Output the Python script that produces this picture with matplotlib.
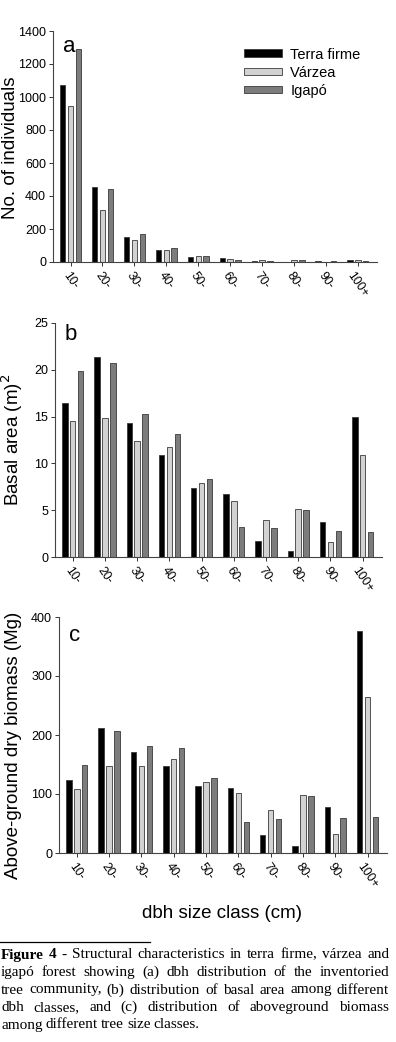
import numpy as np
import matplotlib
matplotlib.use("Agg")
import matplotlib.pyplot as plt
from matplotlib.patches import Patch

plt.rcParams["font.family"] = ["Liberation Sans", "DejaVu Sans"]

classes = ["10-", "20-", "30-", "40-", "50-", "60-", "70-", "80-", "90-", "100+"]
series_names = ["Terra firme", "Várzea", "Igapó"]

# (a) number of individuals
ind_terra = [1070, 455, 150, 75, 32, 22, 5, 3, 5, 12]
ind_varzea = [945, 315, 135, 75, 35, 18, 10, 10, 2, 10]
ind_igapo = [1290, 440, 168, 85, 37, 10, 8, 10, 5, 5]

# (b) basal area (m2)
ba_terra = [16.5, 21.4, 14.3, 10.9, 7.4, 6.7, 1.7, 0.6, 3.7, 15.0]
ba_varzea = [14.5, 14.8, 12.4, 11.7, 7.9, 6.0, 4.0, 5.1, 1.6, 10.9]
ba_igapo = [19.9, 20.7, 15.3, 13.1, 8.3, 3.2, 3.1, 5.0, 2.8, 2.7]

# (c) above-ground dry biomass (Mg)
bio_terra = [123, 212, 172, 147, 113, 111, 31, 12, 78, 377]
bio_varzea = [108, 147, 147, 160, 121, 101, 73, 98, 33, 265]
bio_igapo = [149, 206, 181, 178, 127, 53, 57, 96, 59, 61]

COLORS = ["#000000", "#d2d2d2", "#7c7c7c"]
EDGE = "#3a3a3a"

W, H = 396, 1042
fig = plt.figure(figsize=(W / 100, H / 100), dpi=100)


def px_axes(left, top, right, bottom):
    return fig.add_axes([left / W, 1 - bottom / H, (right - left) / W, (bottom - top) / H])


def bar_panel(ax, data, ymax, ystep, ylabel, label_xy, letter, letter_y):
    x = np.arange(len(classes))
    width = 0.17
    for i, (vals, col) in enumerate(zip(data, COLORS)):
        ax.bar(x + (i - 1) * 0.245, vals, width, color=col, edgecolor=EDGE, linewidth=0.6)
    ax.set_xlim(-0.55, 9.6)
    ax.set_ylim(0, ymax)
    ax.set_yticks(np.arange(0, ymax + 1e-9, ystep))
    ax.set_xticks(x)
    ax.set_xticklabels(classes, rotation=-55, ha="center", va="top", fontsize=8.8)
    ax.tick_params(axis="both", direction="out", length=3, width=0.7, colors="#333333",
                   labelcolor="black", pad=2)
    ax.tick_params(axis="y", labelsize=9)
    ax.tick_params(axis="x", pad=3)
    for s in ("top", "right"):
        ax.spines[s].set_visible(False)
    for s in ("left", "bottom"):
        ax.spines[s].set_color("#444444")
        ax.spines[s].set_linewidth(0.8)
    # y label placed at the same spot as in the reference
    fig.text(label_xy[0] / W, 1 - label_xy[1] / H, ylabel, fontsize=13.5, rotation=90,
             ha="center", va="center")
    ax.text(0.03, letter_y, letter, transform=ax.transAxes, fontsize=16, va="center", ha="left")


ax_a = px_axes(53, 31, 377, 262)
bar_panel(ax_a, [ind_terra, ind_varzea, ind_igapo], 1400, 200, "No. of individuals",
          (11, 148), "a", 0.935)
handles = [Patch(facecolor=c, edgecolor=EDGE, linewidth=0.6) for c in COLORS]
ax_a.legend(handles, series_names, loc="upper right", bbox_to_anchor=(0.99, 0.985),
            frameon=False, fontsize=10.5, handlelength=2.6, handleheight=0.45,
            handletextpad=0.6, labelspacing=0.28)

ax_b = px_axes(55, 323, 382, 557)
bar_panel(ax_b, [ba_terra, ba_varzea, ba_igapo], 25, 5, "Basal area (m)$^2$",
          (12, 440), "b", 0.95)

ax_c = px_axes(59, 617, 387, 853)
bar_panel(ax_c, [bio_terra, bio_varzea, bio_igapo], 400, 100,
          "Above-ground dry biomass (Mg)", (14, 745), "c", 0.92)

fig.text(222 / W, 1 - 913 / H, "dbh size class (cm)", fontsize=13.5, ha="center", va="center")

# caption rule
fig.add_artist(plt.Line2D([0, 150 / W], [1 - 942 / H, 1 - 942 / H], color="black", linewidth=0.9))

caption_lines = [
    "Figure 4 - Structural characteristics in terra firme, várzea and",
    "igapó forest showing (a) dbh distribution of the inventoried",
    "tree community, (b) distribution of basal area among different",
    "dbh classes, and (c) distribution of aboveground biomass",
    "among different tree size classes.",
]
fig.canvas.draw()
renderer = fig.canvas.get_renderer()
x0, x1 = 1, 389
y_first = 955
line_step = 17.5
for li, line in enumerate(caption_lines):
    words = line.split(" ")
    y = 1 - (y_first + li * line_step) / H
    texts = []
    for wi, wd in enumerate(words):
        bold = li == 0 and wi < 2
        t = fig.text(0, y, wd, fontsize=11, family="Liberation Serif",
                     fontweight="bold" if bold else "normal", va="center", ha="left")
        texts.append(t)
    widths = [t.get_window_extent(renderer).width for t in texts]
    if li < len(caption_lines) - 1:
        gap = (x1 - x0 - sum(widths)) / (len(words) - 1)
    else:
        gap = 3.2
    xp = x0
    for t, w in zip(texts, widths):
        t.set_x(xp / W)
        xp += w + gap

fig.savefig("out.png", dpi=100)
